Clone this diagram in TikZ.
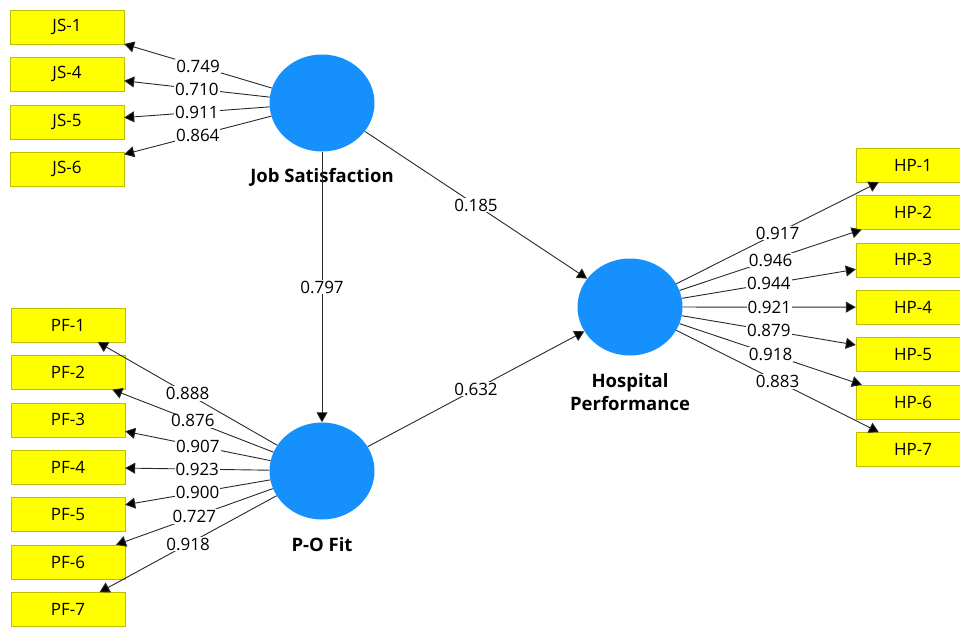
\documentclass[tikz,border=0pt]{standalone}
\usepackage{fontspec}
\setmainfont{Open Sans}
\usetikzlibrary{positioning}
\usetikzlibrary{arrows.meta, shapes.geometric}

\definecolor{lvblue}{RGB}{22,144,252}
\definecolor{mvyellow}{RGB}{255,255,0}
\definecolor{mvedge}{RGB}{190,190,0}
\definecolor{edgegray}{RGB}{40,40,40}

\begin{document}
\begin{tikzpicture}[
    x = 1pt, y = -1pt,
    node distance = 13pt,
    font = \fontsize{17}{20}\selectfont,
    ]

    \tikzstyle{indicator}=[
    draw = mvedge,
    fill = mvyellow,
    minimum width = 114pt,
    minimum height = 34pt,
    inner sep = 0pt,
    ]
    \tikzstyle{latent}=[ellipse, fill = lvblue, minimum width = 105pt, minimum height = 97pt]
    \tikzstyle{cname}=[font = \fontsize{18.5}{23}\selectfont\bfseries, align = center]
    \tikzstyle{coef}=[fill = white, inner sep = 1pt]
    \tikzstyle{link}=[draw = edgegray, line width = 0.9pt, -{Triangle[length=10pt, width=11pt]}]

    \clip (0,0) rectangle (960,626);

    \node[latent] (js) at (322,103) {};
    \node[latent] (po) at (322,471) {};
    \node[latent] (hp) at (630,307) {};

    \node[cname] (jsname) at (322,177) {Job Satisfaction};
    \node[cname] (poname) at (322,545) {P-O Fit};
    \node[cname] (hpname) at (630,392) {Hospital\\Performance};

    \node[indicator] (js1) at (67,27) {JS-1};
    \node[indicator, below=of js1] (js4) {JS-4};
    \node[indicator, below=of js4] (js5) {JS-5};
    \node[indicator, below=of js5] (js6) {JS-6};

    \node[indicator] (pf1) at (68,325) {PF-1};
    \node[indicator, below=of pf1] (pf2) {PF-2};
    \node[indicator, below=of pf2] (pf3) {PF-3};
    \node[indicator, below=of pf3] (pf4) {PF-4};
    \node[indicator, below=of pf4] (pf5) {PF-5};
    \node[indicator, below=of pf5] (pf6) {PF-6};
    \node[indicator, below=of pf6] (pf7) {PF-7};

    \node[indicator] (hp1) at (913,165) {HP-1};
    \node[indicator, below=of hp1] (hp2) {HP-2};
    \node[indicator, below=of hp2] (hp3) {HP-3};
    \node[indicator, below=of hp3] (hp4) {HP-4};
    \node[indicator, below=of hp4] (hp5) {HP-5};
    \node[indicator, below=of hp5] (hp6) {HP-6};
    \node[indicator, below=of hp6] (hp7) {HP-7};

    % outer loadings
    \path[link] (js) edge node[coef] {0.749} (js1);
    \path[link] (js) edge node[coef] {0.710} (js4);
    \path[link] (js) edge node[coef] {0.911} (js5);
    \path[link] (js) edge node[coef] {0.864} (js6);

    \path[link] (po) edge node[coef] {0.888} (pf1);
    \path[link] (po) edge node[coef] {0.876} (pf2);
    \path[link] (po) edge node[coef] {0.907} (pf3);
    \path[link] (po) edge node[coef] {0.923} (pf4);
    \path[link] (po) edge node[coef] {0.900} (pf5);
    \path[link] (po) edge node[coef] {0.727} (pf6);
    \path[link] (po) edge node[coef] {0.918} (pf7);

    \path[link] (hp) edge node[coef] {0.917} (hp1);
    \path[link] (hp) edge node[coef] {0.946} (hp2);
    \path[link] (hp) edge node[coef] {0.944} (hp3);
    \path[link] (hp) edge node[coef] {0.921} (hp4);
    \path[link] (hp) edge node[coef] {0.879} (hp5);
    \path[link] (hp) edge node[coef] {0.918} (hp6);
    \path[link] (hp) edge node[coef] {0.883} (hp7);

    % path coefficients
    \path[link] (js) edge node[coef] {0.797} (po);
    \path[link] (js) edge node[coef] {0.185} (hp);
    \path[link] (po) edge node[coef] {0.632} (hp);
\end{tikzpicture}
\end{document}
